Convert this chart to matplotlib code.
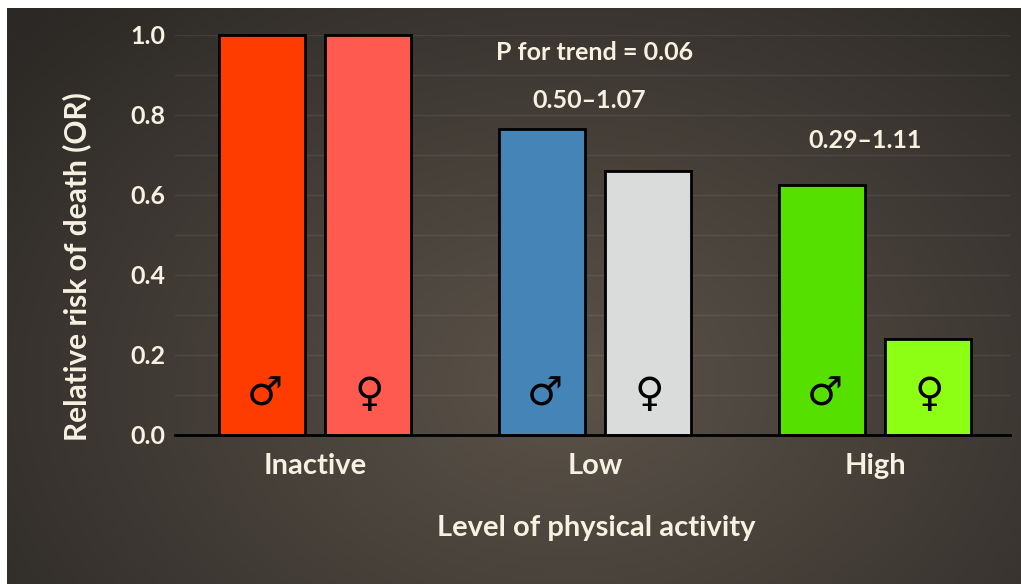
import numpy as np
import matplotlib
matplotlib.use("Agg")
import matplotlib.pyplot as plt

categories = ["Inactive", "Low", "High"]
male_values = [1.0, 0.765, 0.625]
female_values = [1.0, 0.66, 0.24]
male_colors = ["#ff3c00", "#4484b6", "#55e000"]
female_colors = ["#ff5a50", "#d9dcda", "#8cff14"]
ci_labels = ["", "0.50\u20131.07", "0.29\u20131.11"]
trend_text = "P for trend = 0.06"
yticks = [0.0, 0.2, 0.4, 0.6, 0.8, 1.0]

W, H = 1021, 584
fig = plt.figure(figsize=(W / 100, H / 100), dpi=100)
fig.patch.set_facecolor("white")

# background gradient panel
bg = fig.add_axes([7 / W, 0, 1 - 7 / W, 1 - 8 / H])
bg.set_axis_off()
ny, nx = 300, 500
yy, xx = np.mgrid[0:ny, 0:nx]
cx, cy = 0.55 * nx, 0.65 * ny
d = np.sqrt(((xx - cx) / nx) ** 2 * 1.0 + ((yy - cy) / ny) ** 2 * 0.6)
d = np.clip(d / 0.7, 0, 1)
c_center = np.array([0x5c, 0x53, 0x49]) / 255
c_edge = np.array([0x2c, 0x29, 0x26]) / 255
img = c_center[None, None, :] * (1 - d[..., None]) + c_edge[None, None, :] * d[..., None]
bg.imshow(img, aspect="auto", extent=[0, 1, 0, 1], origin="upper")
bg.set_xlim(0, 1)
bg.set_ylim(0, 1)

# main axes
left, right = 175 / W, 1010 / W
bottom, top = 1 - 435 / H, 1 - 35 / H
ax = fig.add_axes([left, bottom, right - left, top - bottom])
ax.patch.set_alpha(0)

font = "Lato"
txt_color = "#f6f1e1"

x = np.arange(len(categories))
off = 0.189
width = 0.307

for g in np.arange(0.1, 1.01, 0.1):
    ax.axhline(g, color="white", alpha=0.07, lw=1.0, zorder=0)

ax.bar(x - off, male_values, width, color=male_colors, edgecolor="black",
       linewidth=2.0, zorder=2, clip_on=False)
ax.bar(x + off, female_values, width, color=female_colors, edgecolor="black",
       linewidth=2.0, zorder=2, clip_on=False)

for xi in x:
    ax.text(xi - off + 0.01, 0.1, "\u2642", ha="center", va="center", fontsize=29,
            color="black", family="DejaVu Sans", fontweight="bold", zorder=3)
    ax.text(xi + off + 0.005, 0.1, "\u2640", ha="center", va="center", fontsize=29,
            color="black", family="DejaVu Sans", fontweight="bold", zorder=3)

ax.text(1.0, 0.9575, trend_text, ha="center", va="center", fontsize=18,
        fontweight="bold", color=txt_color, family=font)
ax.text(1 - 0.02, 0.8375, ci_labels[1], ha="center", va="center", fontsize=18,
        fontweight="bold", color=txt_color, family=font)
ax.text(2 - 0.035, 0.7375, ci_labels[2], ha="center", va="center", fontsize=18,
        fontweight="bold", color=txt_color, family=font)

ax.set_xlim(-0.5, 2.482)
ax.set_ylim(0, 1.0)
ax.set_yticks(yticks)
ax.set_yticklabels([f"{v:.1f}" for v in yticks], fontsize=18, fontweight="bold",
                   color=txt_color, family=font)
ax.set_xticks(x)
ax.set_xticklabels(categories, fontsize=21, fontweight="bold", color=txt_color,
                   family=font)
ax.tick_params(axis="both", length=0)
ax.tick_params(axis="y", pad=7)
ax.tick_params(axis="x", pad=13)
for s in ["top", "right", "left"]:
    ax.spines[s].set_visible(False)
ax.spines["bottom"].set_color("black")
ax.spines["bottom"].set_linewidth(2.0)

ax.set_ylabel("Relative risk of death (OR)", fontsize=21.5, fontweight="bold",
              color=txt_color, family=font)
ax.yaxis.set_label_coords(-0.1, 0.42)
ax.set_xlabel("Level of physical activity", fontsize=21, fontweight="bold",
              color=txt_color, family=font)
ax.xaxis.set_label_coords(0.504, -0.2)

fig.savefig("out.png", dpi=100, facecolor=fig.get_facecolor())
